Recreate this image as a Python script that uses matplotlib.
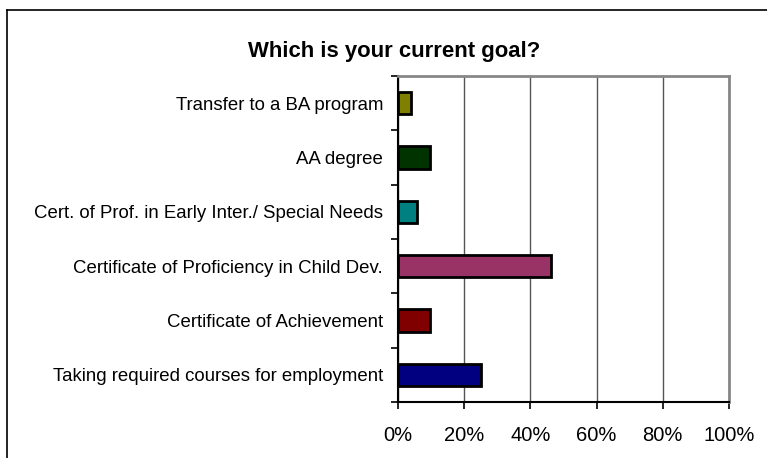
import matplotlib
matplotlib.use("Agg")
import matplotlib.pyplot as plt
from matplotlib.lines import Line2D
from matplotlib.ticker import FixedLocator, PercentFormatter

plt.rcParams['font.family'] = ['Liberation Sans', 'DejaVu Sans']

# categories, top to bottom as in the chart
goals = [
    "Transfer to a BA program",
    "AA degree",
    "Cert. of Prof. in Early Inter./ Special Needs",
    "Certificate of Proficiency in Child Dev.",
    "Certificate of Achievement",
    "Taking required courses for employment",
]
shares = [3.8, 9.8, 5.8, 46.2, 9.7, 25.0]
colors = ["#808000", "#003300", "#008080", "#993366", "#800000", "#000080"]
xticks = [0, 20, 40, 60, 80, 100]

fig = plt.figure(figsize=(7.67, 4.58), dpi=100)
ax = fig.add_axes([398/767, 1 - 402/458, 331/767, 326/458])

ypos = list(range(len(goals)))[::-1]
ax.barh(ypos, shares, height=0.41, color=colors, edgecolor="black",
        linewidth=2, zorder=3)

ax.set_xlim(0, 100)
ax.set_ylim(-0.5, len(goals) - 0.5)
ax.set_xticks(xticks)
ax.xaxis.set_major_formatter(PercentFormatter(decimals=0))
ax.set_yticks(ypos)
ax.set_yticklabels(goals)
ax.yaxis.set_minor_locator(FixedLocator([y + 0.5 for y in range(-1, len(goals))]))

ax.tick_params(axis="y", which="major", length=0, pad=10.8, labelsize=13.4)
ax.tick_params(axis="y", which="minor", length=5, width=1.2, color="black")
ax.tick_params(axis="x", length=5, width=1.2, labelsize=14.5, pad=12)

ax.grid(axis="x", color="#555555", linewidth=1, zorder=0)
for side in ["top", "right"]:
    ax.spines[side].set_color("#888888")
    ax.spines[side].set_linewidth(2)
for side in ["left", "bottom"]:
    ax.spines[side].set_color("black")
    ax.spines[side].set_linewidth(1.5)

fig.text(394/767, 1 - 52/458, "Which is your current goal?", ha="center",
         va="center", fontsize=15.9, fontweight="bold")

# outer chart frame (cut off at right and bottom)
fig.add_artist(Line2D([7/767, 1], [1 - 10/458, 1 - 10/458], color="black",
                      linewidth=1.2, transform=fig.transFigure))
fig.add_artist(Line2D([7/767, 7/767], [0, 1 - 10/458], color="black",
                      linewidth=1.2, transform=fig.transFigure))

fig.savefig("out.png", dpi=100)
